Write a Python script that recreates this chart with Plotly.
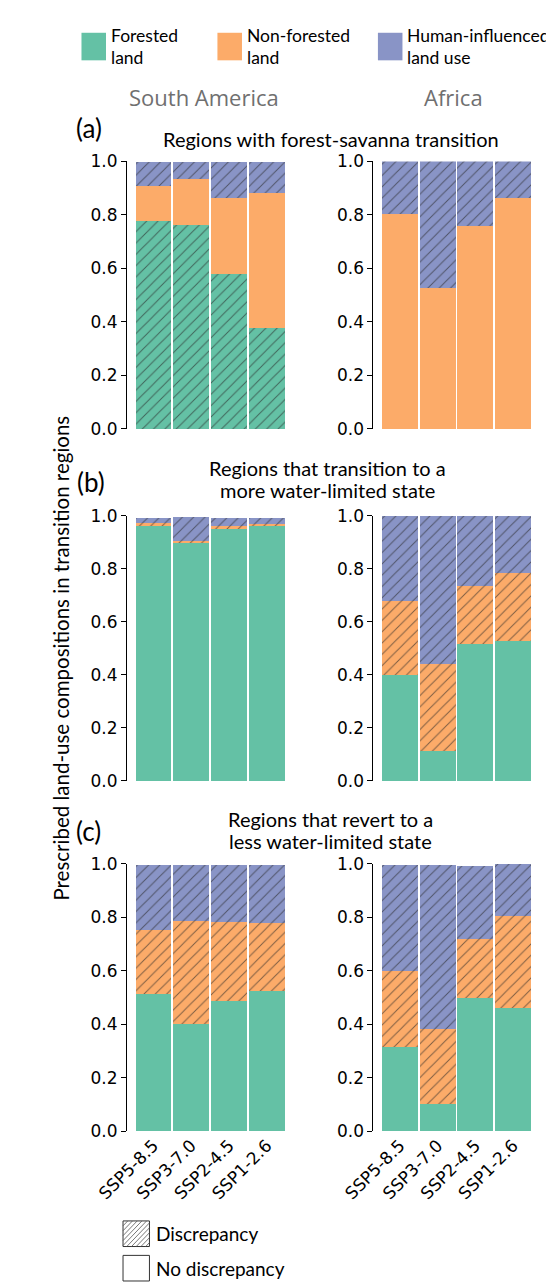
import plotly.graph_objects as go

W, H = 554, 1282

scenarios = ["SSP5-8.5", "SSP3-7.0", "SSP2-4.5", "SSP1-2.6"]
categories = ["Forested land", "Non-forested land", "Human-influenced land use"]

# Panel (a): regions with forest-savanna transition
sa_a_forest = [0.778, 0.763, 0.579, 0.377]
sa_a_nonforest = [0.132, 0.173, 0.286, 0.504]
sa_a_human = [0.086, 0.063, 0.131, 0.115]
af_a_forest = [0.0, 0.0, 0.0, 0.0]
af_a_nonforest = [0.804, 0.526, 0.760, 0.864]
af_a_human = [0.196, 0.474, 0.240, 0.136]

# Panel (b): regions that transition to a more water-limited state
sa_b_forest = [0.963, 0.896, 0.951, 0.960]
sa_b_nonforest = [0.009, 0.010, 0.010, 0.008]
sa_b_human = [0.021, 0.088, 0.031, 0.024]
af_b_forest = [0.398, 0.113, 0.518, 0.529]
af_b_nonforest = [0.281, 0.327, 0.219, 0.254]
af_b_human = [0.321, 0.560, 0.263, 0.217]

# Panel (c): regions that revert to a less water-limited state
sa_c_forest = [0.513, 0.400, 0.488, 0.526]
sa_c_nonforest = [0.240, 0.387, 0.296, 0.254]
sa_c_human = [0.244, 0.210, 0.213, 0.217]
af_c_forest = [0.314, 0.102, 0.499, 0.461]
af_c_nonforest = [0.285, 0.282, 0.221, 0.346]
af_c_human = [0.397, 0.612, 0.273, 0.193]

# discrepancy flags (hatched) per panel & category: forest, nonforest, human
hatch_a_sa = [True, False, True]
hatch_a_af = [False, False, True]
hatch_b = [False, True, True]
hatch_c = [False, True, True]

y_ticks = [0.0, 0.2, 0.4, 0.6, 0.8, 1.0]

colors = ["#64c1a5", "#fcab69", "#8994c6"]
HATCH_FG = "rgba(40,40,40,0.6)"
TICK_FONT = dict(family="DejaVu Sans", size=17, color="black")
TXT_FONT = "Lato"


def px_x(x):
    return x / W


def px_y(y):
    return 1 - y / H


panels = [
    (1, [sa_a_forest, sa_a_nonforest, sa_a_human], hatch_a_sa),
    (2, [af_a_forest, af_a_nonforest, af_a_human], hatch_a_af),
    (3, [sa_b_forest, sa_b_nonforest, sa_b_human], hatch_b),
    (4, [af_b_forest, af_b_nonforest, af_b_human], hatch_b),
    (5, [sa_c_forest, sa_c_nonforest, sa_c_human], hatch_c),
    (6, [af_c_forest, af_c_nonforest, af_c_human], hatch_c),
]

fig = go.Figure()
for idx, series, hatches in panels:
    sfx = "" if idx == 1 else str(idx)
    for ci, (vals, hatch) in enumerate(zip(series, hatches)):
        pattern = dict(shape="/" if hatch else "", fgcolor=HATCH_FG,
                       bgcolor=colors[ci], size=8, solidity=0.12,
                       fillmode="replace")
        fig.add_trace(go.Bar(
            x=scenarios, y=vals, name=categories[ci], width=0.95,
            marker=dict(color=colors[ci], line=dict(width=0), pattern=pattern),
            xaxis="x" + sfx, yaxis="y" + sfx, showlegend=False,
        ))

x_domains = {
    "sa": [px_x(93.3), px_x(269.3)],
    "af": [px_x(354.3), px_x(530.3)],
}
y_domains = [
    [px_y(417.5), px_y(145.7)],
    [px_y(775.0), px_y(505.7)],
    [px_y(1131.0), px_y(859.3)],
]

layout = dict(
    width=W, height=H, margin=dict(l=0, r=0, t=0, b=0),
    paper_bgcolor="white", plot_bgcolor="white", barmode="stack",
    font=dict(family="DejaVu Sans", color="black"),
)
for idx in range(1, 7):
    sfx = "" if idx == 1 else str(idx)
    row = (idx - 1) // 2
    col = "sa" if idx % 2 == 1 else "af"
    bottom = row == 2
    layout["xaxis" + sfx] = dict(
        domain=x_domains[col], anchor="y" + sfx, range=[-0.7, 3.7],
        type="category", showline=False, showgrid=False, zeroline=False,
        showticklabels=bottom, ticks="", tickangle=-45, tickfont=TICK_FONT,
    )
    layout["yaxis" + sfx] = dict(
        domain=y_domains[row], anchor="x" + sfx, range=[0, 1],
        tickvals=y_ticks, ticktext=[f"{v:.1f}" for v in y_ticks],
        showline=True, linecolor="black", linewidth=1.2, ticks="outside",
        ticklen=5, tickwidth=1.2, tickcolor="black", showgrid=False,
        zeroline=False, tickfont=TICK_FONT,
    )
fig.update_layout(**layout)

ann = []


def text(x, y, s, size, color="black", family=TXT_FONT, xanchor="center", **kw):
    ann.append(dict(x=px_x(x), y=px_y(y), xref="paper", yref="paper", text=s,
                    showarrow=False, xanchor=xanchor, yanchor="middle",
                    font=dict(family=family, size=size, color=color), **kw))


# top legend
shapes = []
leg = [(45, ["Forested", "land"]), (189, ["Non-forested", "land"]),
       (359, ["Human-influenced", "land use"])]
for (lx, lines), c in zip(leg, colors):
    shapes.append(dict(type="rect", xref="paper", yref="paper",
                       x0=px_x(lx), x1=px_x(lx + 26), y0=px_y(43), y1=px_y(15),
                       fillcolor=c, line=dict(width=0)))
    text(lx + 29, 18, lines[0], 17.5, xanchor="left")
    text(lx + 29, 40, lines[1], 17.5, xanchor="left")

text(175, 80, "South America", 22, color="#707070", family="Open Sans")
text(439, 80, "Africa", 22, color="#707070", family="Open Sans")

text(53, 112, "(a)", 26)
text(309, 123, "Regions with forest-savanna transition", 20)
text(55, 471, "(b)", 26)
text(306, 457, "Regions that transition to a", 20)
text(306, 479, "more water-limited state", 20)
text(52, 826, "(c)", 26)
text(309, 814, "Regions that revert to a", 20)
text(309, 836, "less water-limited state", 20)

text(23, 650, "Prescribed land-use compositions in transition regions", 20.5,
     textangle=-90)

# bottom legend
for by, lab, hatched in [(1222, "Discrepancy", True), (1257, "No discrepancy", False)]:
    bx0, bx1, by0, by1 = 89, 117, by, by + 26
    shapes.append(dict(type="rect", xref="paper", yref="paper",
                       x0=px_x(bx0), x1=px_x(bx1), y0=px_y(by1), y1=px_y(by0),
                       fillcolor="white", line=dict(color="#333333", width=1)))
    if hatched:
        step = 5
        for k in range(-26, 28, step):
            x0, y0 = bx0 + k, by1
            x1, y1 = bx0 + k + 26, by0
            if x0 < bx0:
                y0 = by1 - (bx0 - x0)
                x0 = bx0
            if x1 > bx1:
                y1 = by0 + (x1 - bx1)
                x1 = bx1
            if x1 <= x0:
                continue
            shapes.append(dict(type="line", xref="paper", yref="paper",
                               x0=px_x(x0), y0=px_y(y0), x1=px_x(x1), y1=px_y(y1),
                               line=dict(color="#555555", width=0.8)))
    text(bx1 + 5, by + 13, lab, 19, xanchor="left")

fig.update_layout(annotations=ann, shapes=shapes)
fig.write_html("out.html")
